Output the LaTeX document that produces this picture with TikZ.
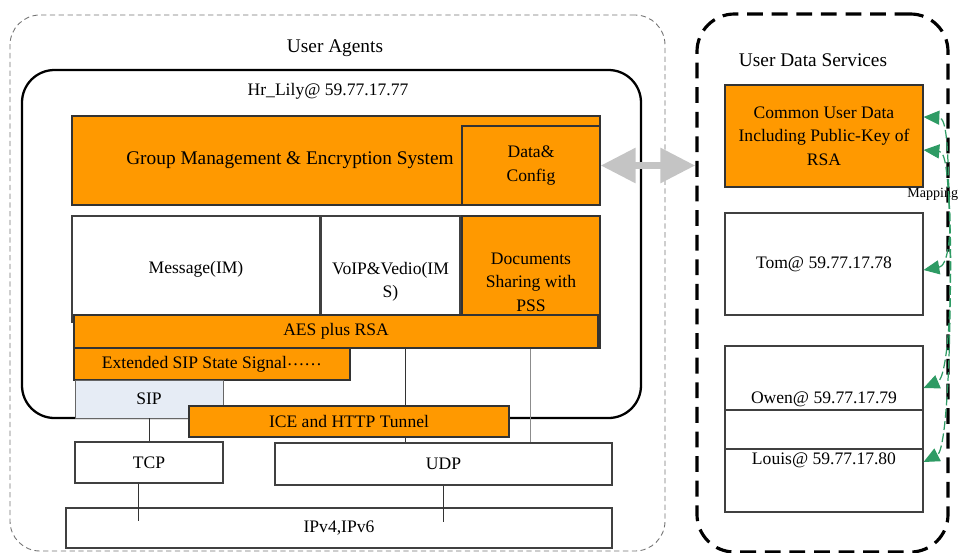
\documentclass[tikz,border=0pt]{standalone}
\usepackage{fontspec}
\setmainfont{Liberation Serif}
\usetikzlibrary{arrows.meta}
\definecolor{boxorange}{HTML}{FF9900}
\definecolor{sipblue}{HTML}{E6ECF5}
\definecolor{mapgreen}{HTML}{2E9B64}
\definecolor{arrowgray}{HTML}{C4C4C4}
\newcommand{\pxu}{0.02cm}

\begin{document}
\begin{tikzpicture}[x=0.02cm, y=-0.02cm,
  font=\fontsize{10}{13.3}\selectfont,
  sz/.style 2 args={minimum width=#1*\pxu, minimum height=#2*\pxu},
  wbox/.style={draw=black!75, line width=0.6pt, fill=white, inner sep=0pt, align=center},
  obox/.style={draw=black!80, line width=0.6pt, fill=boxorange, inner sep=0pt, align=center},
  conn/.style={draw=black!80, line width=0.5pt},
  mapline/.style={draw=mapgreen, line width=0.7pt, dash pattern=on 5pt off 2pt, -{Triangle[length=9pt,width=8pt]}},
  biarrow/.style={draw=arrowgray, line width=4.5pt, {Triangle[length=20pt,width=19pt]}-{Triangle[length=20pt,width=19pt]}},
  bigtext/.style={font=\fontsize{11}{13}\selectfont}]
\useasboundingbox (0,0) rectangle (961,552);

% user agents
\node[draw=black!55, dash pattern=on 3pt off 2pt, line width=0.5pt, rounded corners=0.6cm, sz={655}{536}] (ua) at (337.5,283) {};
\node[bigtext] (uatitle) at (335,48) {User Agents};
\node[draw, line width=1.3pt, rounded corners=0.65cm, sz={619}{348}] (lily) at (331.5,244) {};
\node (lilyname) at (328,91) {Hr\_Lily@ 59.77.17.77};

\node[obox, sz={528}{89}] (gms) at (336,160.5) {};
\node[bigtext] (gmstext) at (290,160) {Group Management \& Encryption System};
\node[obox, sz={138}{79}] (dc) at (531,165.5) {Data\&\\Config};

\node[wbox, sz={248}{106}] (msg) at (196,269) {Message(IM)};
\node[wbox, sz={139}{132}] (voip) at (390.5,282) {VoIP\&Vedio(IM\\S)};
\node[obox, sz={138}{132}] (docs) at (531,282) {Documents\\Sharing with\\PSS};
\node[obox, sz={524}{33}] (aes) at (336,331.5) {AES plus RSA};
\node[obox, sz={276}{32}] (ext) at (212,364) {Extended SIP State Signal\raisebox{0.35ex}{……}};
\node[draw=black!60, line width=0.5pt, fill=sipblue, inner sep=0pt, sz={148}{38}] (sip) at (149,399) {SIP};

\node[wbox, sz={148}{41}] (tcp) at (149,462.5) {TCP};
\node[wbox, sz={337}{42}] (udp) at (443.5,464) {UDP};
\node[wbox, sz={546}{40}] (ip) at (339,528) {IPv4,IPv6};

% layer links
\draw[conn] (sip) -- (tcp);
\draw[conn] ([xshift=-0.22cm]tcp.south) -- ++(0,37);
\draw[conn] (udp.south) -- ++(0,36);
\draw[conn] ([xshift=1.38cm]aes.south) -- ([xshift=1.38cm]aes.south |- udp.north);
\draw[draw=black!45, line width=0.5pt] ([xshift=3.88cm]aes.south) -- ([xshift=3.88cm]aes.south |- udp.north);

\node[obox, sz={320}{31}] (ice) at (349,421.5) {ICE and HTTP Tunnel};

% user data services
\node[draw, line width=1.8pt, dash pattern=on 9pt off 5pt, rounded corners=0.75cm, sz={251}{538}] (uds) at (822.5,283) {};
\node[bigtext] (udstitle) at (813,60) {User Data Services};
\node[obox, sz={198}{102}] (cud) at (824,136) {Common User Data\\Including Public-Key of\\RSA};
\node[wbox, sz={198}{102}] (tom) at (824,264) {Tom@ 59.77.17.78};
\node[wbox, sz={198}{64}] (owen) at (824,378) {};
\node[wbox, sz={198}{39}] (gap) at (824,429.5) {};
\node[wbox, sz={198}{63}] (louis) at (824,480.5) {};
\node[anchor=south, inner sep=2pt] (owenname) at (owen.south) {Owen@ 59.77.17.79};
\node[anchor=north, inner sep=2pt] (louisname) at (louis.north) {Louis@ 59.77.17.80};

% data exchange
\draw[biarrow] (dc.east) -- (dc.east -| uds.west);

% mapping
\coordinate (msrc) at (949,200);
\node[font=\fontsize{8}{9}\selectfont, anchor=west, inner sep=0pt] (maptext) at (907,194) {Mapping};
\draw[mapline] (msrc) .. controls (948,150) and (947,118) .. ([yshift=0.38cm]cud.east);
\draw[mapline] (msrc) .. controls (947,175) and (946,152) .. ([yshift=-0.28cm]cud.east);
\draw[mapline] (msrc) .. controls (952,240) and (947,266) .. ([yshift=-0.12cm]tom.east);
\draw[mapline] (msrc) .. controls (954,300) and (947,378) .. ([yshift=-0.2cm]owen.east);
\draw[mapline] (msrc) .. controls (953,330) and (947,450) .. ([yshift=0.37cm]louis.east);
\end{tikzpicture}
\end{document}
